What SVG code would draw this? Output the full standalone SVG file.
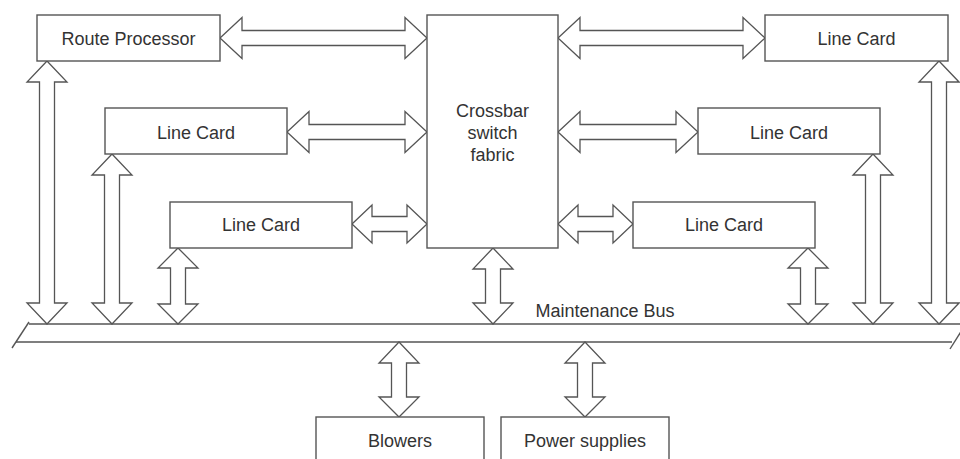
<svg xmlns="http://www.w3.org/2000/svg" width="960" height="459" viewBox="0 0 960 459">
  <style>
    .box { fill: #fff; stroke: #555; stroke-width: 1.4; }
    .arrow { fill: #fff; stroke: #555; stroke-width: 1.3; stroke-linejoin: miter; }
    .bus { fill: none; stroke: #555; stroke-width: 1.4; }
    .label { font-family: "Liberation Sans", Arial, sans-serif; font-size: 18px; fill: #333; text-anchor: middle; }
  </style>
  <rect width="960" height="459" fill="#fff"/>

  <!-- connectors: block arrows and the maintenance bus -->
  <g id="connectors">
    <g id="bus">
      <line class="bus" x1="29" y1="324" x2="960" y2="324"/>
      <line class="bus" x1="16" y1="342" x2="952" y2="342"/>
      <line class="bus" x1="29" y1="322" x2="12" y2="348"/>
      <line class="bus" x1="962" y1="330" x2="950" y2="349"/>
      <text class="label" x="605" y="317">Maintenance Bus</text>
    </g>
    <!-- horizontal links to the crossbar -->
    <path class="arrow" d="M220,38 L242,17.5 L242,30.5 L405,30.5 L405,17.5 L427,38 L405,58.5 L405,45.5 L242,45.5 L242,58.5 Z"/>
    <path class="arrow" d="M287,132 L309,111.5 L309,124.5 L405,124.5 L405,111.5 L427,132 L405,152.5 L405,139.5 L309,139.5 L309,152.5 Z"/>
    <path class="arrow" d="M352,224 L372,205 L372,216.5 L407,216.5 L407,205 L427,224 L407,243 L407,231.5 L372,231.5 L372,243 Z"/>
    <path class="arrow" d="M558,38 L580,17.5 L580,30.5 L743,30.5 L743,17.5 L765,38 L743,58.5 L743,45.5 L580,45.5 L580,58.5 Z"/>
    <path class="arrow" d="M558,132 L580,111.5 L580,124.5 L676,124.5 L676,111.5 L698,132 L676,152.5 L676,139.5 L580,139.5 L580,152.5 Z"/>
    <path class="arrow" d="M558,224 L578,205 L578,216.5 L613,216.5 L613,205 L633,224 L613,243 L613,231.5 L578,231.5 L578,243 Z"/>
    <!-- vertical links to the bus -->
    <path class="arrow" d="M47,61 L67,82 L54.5,82 L54.5,303 L67,303 L47,324 L27,303 L39.5,303 L39.5,82 L27,82 Z"/>
    <path class="arrow" d="M112,154 L132,175 L119.5,175 L119.5,303 L132,303 L112,324 L92,303 L104.5,303 L104.5,175 L92,175 Z"/>
    <path class="arrow" d="M178,248 L198,268 L185.5,268 L185.5,304 L198,304 L178,324 L158,304 L170.5,304 L170.5,268 L158,268 Z"/>
    <path class="arrow" d="M493,248 L513,269 L500.5,269 L500.5,303 L513,303 L493,324 L473,303 L485.5,303 L485.5,269 L473,269 Z"/>
    <path class="arrow" d="M808,248 L828,268 L815.5,268 L815.5,304 L828,304 L808,324 L788,304 L800.5,304 L800.5,268 L788,268 Z"/>
    <path class="arrow" d="M873,154 L893,175 L880.5,175 L880.5,303 L893,303 L873,324 L853,303 L865.5,303 L865.5,175 L853,175 Z"/>
    <path class="arrow" d="M939,61 L959,82 L946.5,82 L946.5,303 L959,303 L939,324 L919,303 L931.5,303 L931.5,82 L919,82 Z"/>
    <path class="arrow" d="M399,342 L419,363 L406.5,363 L406.5,397 L419,397 L399,417 L379,397 L391.5,397 L391.5,363 L379,363 Z"/>
    <path class="arrow" d="M585,342 L605,363 L592.5,363 L592.5,397 L605,397 L585,417 L565,397 L577.5,397 L577.5,363 L565,363 Z"/>
  </g>

  <g id="route-processor">
    <rect class="box" x="37" y="15" width="183" height="46"/>
    <text class="label" x="128.5" y="44.5">Route Processor</text>
  </g>
  <g id="crossbar">
    <rect class="box" x="427" y="15" width="131" height="233"/>
    <text class="label" x="492.5" y="116.5">Crossbar</text>
    <text class="label" x="492.5" y="138.5">switch</text>
    <text class="label" x="492.5" y="160.5">fabric</text>
  </g>
  <g id="line-card-left-1">
    <rect class="box" x="105" y="108" width="182" height="46"/>
    <text class="label" x="196" y="138.5">Line Card</text>
  </g>
  <g id="line-card-left-2">
    <rect class="box" x="170" y="202" width="182" height="46"/>
    <text class="label" x="261" y="230.5">Line Card</text>
  </g>
  <g id="line-card-right-1">
    <rect class="box" x="765" y="15" width="183" height="46"/>
    <text class="label" x="856.5" y="44.5">Line Card</text>
  </g>
  <g id="line-card-right-2">
    <rect class="box" x="698" y="108" width="182" height="46"/>
    <text class="label" x="789" y="138.5">Line Card</text>
  </g>
  <g id="line-card-right-3">
    <rect class="box" x="633" y="202" width="182" height="46"/>
    <text class="label" x="724" y="230.5">Line Card</text>
  </g>
  <g id="blowers">
    <rect class="box" x="316" y="417" width="168" height="46"/>
    <text class="label" x="400" y="446.5">Blowers</text>
  </g>
  <g id="power-supplies">
    <rect class="box" x="501" y="417" width="168" height="46"/>
    <text class="label" x="585" y="446.5">Power supplies</text>
  </g>
</svg>
